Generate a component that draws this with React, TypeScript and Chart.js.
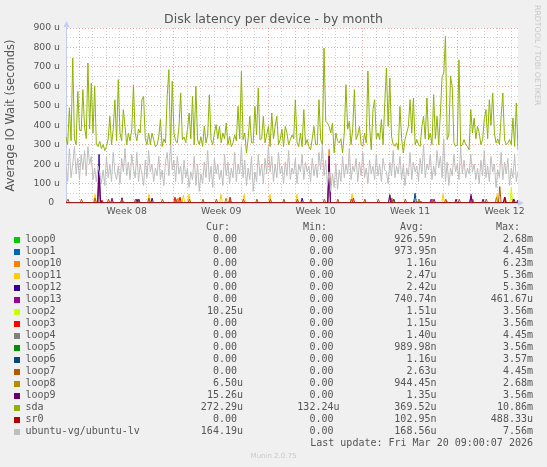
import { useEffect, useRef } from "react";
import { Chart, registerables } from "chart.js";

Chart.register(...registerables);

// time axis in days since the left edge of the graph, one sample every 3 hours
const STEP_DAYS = 0.125;
const SPAN_DAYS = 33.5;
const WEEK_STARTS = [1, 8, 15, 22, 29];
const WEEK_LABELS = ["Week 08", "Week 09", "Week 10", "Week 11", "Week 12"];

// values in microseconds
const sda = [
  340, 300, 490, 320, 746, 330, 300, 574, 380, 370, 583, 390, 330, 720, 380, 617, 360, 603, 300, 290,
  317, 280, 300, 270, 290, 330, 446, 300, 380, 531, 320, 634, 360, 320, 480, 394, 300, 360, 320, 380,
  608, 360, 320, 380, 360, 531, 548, 330, 300, 360, 300, 360, 326, 290, 300, 340, 429, 290, 330, 309,
  548, 686, 274, 626, 360, 320, 309, 394, 566, 326, 340, 310, 377, 463, 330, 548, 300, 600, 326, 300,
  340, 291, 394, 309, 350, 557, 326, 300, 360, 403, 330, 394, 310, 360, 330, 411, 300, 343, 290, 309,
  350, 320, 497, 330, 677, 326, 360, 257, 330, 446, 310, 309, 497, 350, 591, 326, 330, 446, 309, 350,
  394, 290, 463, 330, 394, 446, 300, 326, 380, 290, 394, 360, 300, 326, 350, 330, 531, 310, 290, 360,
  290, 480, 300, 326, 290, 274, 330, 394, 300, 300, 531, 326, 300, 797, 420, 411, 394, 360, 411, 257,
  360, 320, 309, 330, 257, 360, 608, 380, 420, 300, 380, 583, 326, 350, 394, 300, 291, 360, 309, 679,
  394, 274, 480, 531, 330, 360, 326, 429, 300, 514, 694, 394, 643, 343, 300, 291, 309, 274, 497, 330,
  257, 326, 360, 394, 531, 360, 540, 300, 326, 300, 291, 394, 446, 330, 540, 326, 360, 300, 557, 330,
  446, 300, 463, 651, 668, 857, 326, 350, 651, 600, 310, 291, 300, 737, 291, 300, 326, 300, 291, 274,
  480, 360, 437, 330, 394, 360, 300, 326, 429, 480, 330, 531, 400, 566, 360, 309, 330, 300, 446, 566,
  326, 300, 309, 326, 300, 437, 291, 514, 272,
];

const ubuntuLv = [
  190, 110, 280, 130, 200, 290, 150, 230, 120, 250, 170, 270, 140, 290, 200, 240, 120, 180, 110, 190,
  150, 100, 170, 90, 240, 130, 200, 110, 260, 150, 120, 190, 100, 230, 160, 280, 140, 210, 120, 250,
  180, 130, 260, 110, 200, 150, 90, 220, 130, 270, 160, 200, 110, 180, 140, 240, 120, 170, 90, 210,
  260, 140, 300, 170, 220, 110, 240, 150, 190, 100, 220, 130, 180, 80, 160, 120, 240, 90, 200, 60,
  150, 100, 210, 130, 270, 110, 190, 80, 230, 150, 200, 120, 170, 90, 250, 140, 210, 100, 180, 130,
  260, 110, 200, 150, 290, 130, 220, 90, 180, 120, 240, 60, 160, 110, 250, 140, 200, 100, 230, 150,
  290, 160, 240, 110, 200, 130, 260, 150, 190, 100, 210, 140, 270, 120, 180, 150, 230, 100, 200, 160,
  250, 120, 210, 160, 190, 110, 230, 140, 200, 130, 260, 170, 300, 140, 220, 90, 160, 60, 150, 80,
  200, 70, 170, 110, 240, 130, 200, 150, 280, 120, 190, 160, 230, 110, 210, 140, 260, 130, 180, 100,
  220, 150, 190, 120, 250, 140, 200, 110, 230, 170, 160, 100, 210, 140, 270, 130, 190, 150, 240, 120,
  200, 90, 180, 140, 260, 120, 210, 160, 190, 110, 230, 150, 300, 130, 200, 170, 250, 120, 190, 140,
  270, 180, 240, 130, 330, 110, 210, 90, 180, 140, 250, 160, 200, 120, 290, 150, 220, 130, 180, 150,
  250, 160, 200, 120, 180, 100, 220, 140, 270, 130, 190, 110, 240, 160, 200, 80, 170, 130, 260, 120,
  210, 150, 230, 90, 180, 130, 250, 110, 164,
];

// loop devices are idle except short bursts: [day, microseconds]
type Spike = [number, number];
const loop0Spikes: Spike[] = [[28.24, 8]];
const loop1Spikes: Spike[] = [[25.8, 12]];
const loop10Spikes: Spike[] = [[2.45, 170], [8.3, 25], [19.5, 276]];
const loop11Spikes: Spike[] = [
  [2.15, 45], [6.15, 45], [8.7, 40], [9.12, 45], [11.49, 45], [13.2, 45],
  [15.12, 45], [17.12, 45], [21.2, 48], [27.95, 45], [31.95, 45],
];
const loop12Spikes: Spike[] = [[2.45, 250], [4.15, 27], [5.26, 20], [6.38, 25], [17.5, 25], [19.5, 200]];
const loop13Spikes: Spike[] = [[24.1, 15], [27.06, 20], [27.28, 20], [30.02, 45]];
const loop2Spikes: Spike[] = [[33.0, 82]];
const loop3Spikes: Spike[] = [[2.67, 15], [8.08, 30], [8.45, 30], [12.16, 30], [21.3, 25]];
const loop4Spikes: Spike[] = [[24.0, 45]];
const loop5Spikes: Spike[] = [[26.3, 10]];
const loop6Spikes: Spike[] = [[24.3, 20], [25.87, 50]];
const loop7Spikes: Spike[] = [
  [0.15, 20], [1.15, 20], [2.15, 25], [3.15, 20], [4.15, 20], [5.15, 20], [6.15, 25], [7.15, 20],
  [8.15, 20], [9.15, 20], [10.15, 20], [11.15, 20], [12.15, 20], [13.15, 20], [14.15, 20], [15.15, 20],
  [16.15, 20], [17.15, 20], [18.15, 20], [19.15, 20], [20.15, 20], [21.15, 20], [22.15, 20], [23.15, 20],
  [24.15, 25], [25.15, 20], [26.15, 20], [27.15, 20], [28.15, 20], [29.15, 20], [30.15, 20], [31.15, 20],
  [32.15, 84], [33.15, 20],
];
const loop8Spikes: Spike[] = [[11.86, 25], [26.17, 20], [31.9, 30]];
const loop9Spikes: Spike[] = [
  [2.45, 150], [3.41, 24], [5.4, 20], [19.5, 242], [24.0, 40], [28.91, 20],
  [30.02, 35], [30.91, 20], [32.5, 30], [33.2, 20],
];
const sr0Spikes: Spike[] = [[2.6, 10], [32.54, 30]];

// legend table, in munin's order
const seriesNames = [
  "loop0", "loop1", "loop10", "loop11", "loop12", "loop13", "loop2", "loop3", "loop4",
  "loop5", "loop6", "loop7", "loop8", "loop9", "sda", "sr0", "ubuntu-vg/ubuntu-lv",
];
const seriesColors = [
  "#00CC00", "#0066B3", "#FF8000", "#FFCC00", "#330099", "#990099", "#CCFF00", "#FF0000", "#808080",
  "#008F00", "#00487D", "#B35A00", "#B38F00", "#6B006B", "#8FB300", "#B30000", "#BEBEBE",
];
const curValues = [
  "0.00 ", "0.00 ", "0.00 ", "0.00 ", "0.00 ", "0.00 ", "10.25u", "0.00 ", "0.00 ",
  "0.00 ", "0.00 ", "0.00 ", "6.50u", "15.26u", "272.29u", "0.00 ", "164.19u",
];
const minValues = [
  "0.00 ", "0.00 ", "0.00 ", "0.00 ", "0.00 ", "0.00 ", "0.00 ", "0.00 ", "0.00 ",
  "0.00 ", "0.00 ", "0.00 ", "0.00 ", "0.00 ", "132.24u", "0.00 ", "0.00 ",
];
const avgValues = [
  "926.59n", "973.95n", "1.16u", "2.47u", "2.42u", "740.74n", "1.51u", "1.15u", "1.40u",
  "989.98n", "1.16u", "2.63u", "944.45n", "1.35u", "369.52u", "102.95n", "168.56u",
];
const maxValues = [
  "2.68m", "4.45m", "6.23m", "5.36m", "5.36m", "461.67u", "3.56m", "3.56m", "4.45m",
  "3.56m", "3.57m", "4.45m", "2.68m", "3.56m", "10.86m", "488.33u", "7.56m",
];
// last value of the idle devices that were not at zero at the end
const loopLastValues: Record<string, number> = { loop2: 10.25, loop8: 6.5, loop9: 15.26 };

const FONT = "'DejaVu Sans', sans-serif";
const MONO = "'DejaVu Sans Mono', monospace";
const TEXT = "#555555";
const AXIS = "#C4CCF2";
const GRID_MAJOR = "rgba(240, 130, 130, 0.7)";
const GRID_MINOR = "rgba(175, 175, 175, 0.6)";
const SPIKE_HALF = 0.1;

function sampled(values: number[]) {
  return values.map((y, i) => ({ x: i * STEP_DAYS, y }));
}

function spikes(list: Spike[], last: number) {
  const pts = [{ x: 0, y: 0 }];
  [...list].sort((a, b) => a[0] - b[0]).forEach(([d, v]) => {
    pts.push({ x: d - SPIKE_HALF, y: 0 }, { x: d, y: v }, { x: d + SPIKE_HALF, y: 0 });
  });
  if (last) pts.push({ x: SPAN_DAYS - STEP_DAYS, y: 0 });
  pts.push({ x: SPAN_DAYS, y: last });
  return pts;
}

const spikeLists: Record<string, Spike[]> = {
  loop0: loop0Spikes, loop1: loop1Spikes, loop10: loop10Spikes, loop11: loop11Spikes,
  loop12: loop12Spikes, loop13: loop13Spikes, loop2: loop2Spikes, loop3: loop3Spikes,
  loop4: loop4Spikes, loop5: loop5Spikes, loop6: loop6Spikes, loop7: loop7Spikes,
  loop8: loop8Spikes, loop9: loop9Spikes, sr0: sr0Spikes,
};

function seriesData(name: string) {
  if (name === "sda") return sampled(sda);
  if (name === "ubuntu-vg/ubuntu-lv") return sampled(ubuntuLv);
  return spikes(spikeLists[name], loopLastValues[name] || 0);
}

const plotDecor = {
  id: "plotDecor",
  beforeDraw(chart: Chart) {
    const { ctx, chartArea: a } = chart;
    ctx.save();
    ctx.fillStyle = "#ffffff";
    ctx.fillRect(a.left, a.top, a.right - a.left, a.bottom - a.top);
    ctx.restore();
  },
  afterDraw(chart: Chart) {
    const { ctx, chartArea: a } = chart;
    ctx.save();
    ctx.fillStyle = AXIS;
    ctx.strokeStyle = AXIS;
    ctx.lineWidth = 1;
    ctx.beginPath();
    ctx.moveTo(a.left + 0.5, a.top);
    ctx.lineTo(a.left + 0.5, a.top - 2);
    ctx.stroke();
    ctx.beginPath();
    ctx.moveTo(a.left + 0.5, a.top - 7);
    ctx.lineTo(a.left + 3.5, a.top - 1);
    ctx.lineTo(a.left - 2.5, a.top - 1);
    ctx.closePath();
    ctx.fill();
    ctx.beginPath();
    ctx.moveTo(a.right + 6, a.bottom);
    ctx.lineTo(a.right, a.bottom - 3);
    ctx.lineTo(a.right, a.bottom + 3);
    ctx.closePath();
    ctx.fill();
    ctx.restore();
  },
};

function DiskLatencyChart() {
  const canvasRef = useRef<HTMLCanvasElement>(null);
  const chartRef = useRef<Chart | null>(null);

  useEffect(() => {
    if (!canvasRef.current) return;
    if (chartRef.current) chartRef.current.destroy();

    // munin draws in legend order, so the last series ends up on top
    const datasets = seriesNames
      .map((name, i) => ({
        label: name,
        data: seriesData(name),
        borderColor: seriesColors[i],
        backgroundColor: seriesColors[i],
        borderWidth: 1,
        pointRadius: 0,
        tension: 0,
        fill: false,
      }))
      .reverse();

    chartRef.current = new Chart(canvasRef.current, {
      type: "line",
      data: { datasets },
      options: {
        animation: false,
        responsive: false,
        events: [],
        layout: { padding: { left: 0, top: 28, right: 29, bottom: 244 } },
        plugins: {
          legend: { display: false },
          tooltip: { enabled: false },
          title: { display: false },
        },
        scales: {
          x: {
            type: "linear",
            min: 0,
            max: SPAN_DAYS,
            afterFit: (scale: any) => {
              scale.height = 20;
            },
            afterBuildTicks: (axis: any) => {
              const values: number[] = [];
              for (let d = 1; d <= Math.floor(SPAN_DAYS); d++) values.push(d);
              WEEK_STARTS.forEach((s) => values.push(s + 3.5));
              axis.ticks = values.sort((a, b) => a - b).map((value) => ({ value }));
            },
            grid: {
              drawTicks: false,
              lineWidth: 1,
              color: (ctx: any) => {
                const v = ctx.tick ? ctx.tick.value : -1;
                if (WEEK_STARTS.includes(v)) return GRID_MAJOR;
                if (Number.isInteger(v)) return GRID_MINOR;
                return "rgba(0,0,0,0)";
              },
            },
            border: { display: true, color: AXIS, dash: [1, 2] },
            ticks: {
              autoSkip: false,
              maxRotation: 0,
              padding: 3,
              color: TEXT,
              font: { family: FONT, size: 9.3 },
              callback: (value: any) => {
                const i = WEEK_STARTS.findIndex((s) => s + 3.5 === Number(value));
                return i >= 0 ? WEEK_LABELS[i] : "";
              },
            },
          },
          y: {
            min: 0,
            max: 900,
            afterFit: (scale: any) => {
              scale.width = 66;
            },
            title: {
              display: true,
              text: "Average IO Wait (seconds)",
              color: TEXT,
              font: { family: FONT, size: 11.5 },
              padding: { top: 4, bottom: 4 },
            },
            grid: {
              drawTicks: false,
              lineWidth: 1,
              color: (ctx: any) =>
                ctx.tick && ctx.tick.value % 100 === 0 ? GRID_MAJOR : GRID_MINOR,
            },
            border: { display: true, color: AXIS, dash: [1, 2] },
            ticks: {
              stepSize: 50,
              autoSkip: false,
              padding: 6,
              color: TEXT,
              font: { family: FONT, size: 9.3 },
              callback: (value: any) => {
                const n = Number(value);
                if (n % 100 !== 0) return "";
                return n === 0 ? "0  " : `${n} u`;
              },
            },
          },
        },
      },
      plugins: [plotDecor],
    });

    return () => {
      if (chartRef.current) {
        chartRef.current.destroy();
        chartRef.current = null;
      }
    };
  }, []);

  return <canvas ref={canvasRef} width={547} height={467} style={{ position: "absolute", left: 0, top: 0 }} />;
}

const valueColumns = [
  { right: 243, values: curValues },
  { right: 339.5, values: minValues },
  { right: 436.5, values: avgValues },
  { right: 533, values: maxValues },
];
const headers = [
  { left: 206, text: "Cur:" },
  { left: 303, text: "Min:" },
  { left: 400, text: "Avg:" },
  { left: 496, text: "Max:" },
];

export default function App() {
  const row = (top: number): React.CSSProperties => ({
    position: "absolute",
    top,
    left: 0,
    width: 547,
    height: 12,
    lineHeight: "12px",
    fontFamily: MONO,
    fontSize: 10,
    color: TEXT,
    whiteSpace: "pre",
  });

  return (
    <div
      style={{
        position: "absolute",
        left: 0,
        top: 0,
        width: 547,
        height: 467,
        background: "#f0f0f0",
        overflow: "hidden",
      }}
    >
      <DiskLatencyChart />
      <div
        style={{
          position: "absolute",
          top: 10.5,
          left: 0,
          width: 547,
          textAlign: "center",
          fontFamily: FONT,
          fontSize: 12.5,
          lineHeight: "15px",
          color: TEXT,
        }}
      >
        Disk latency per device - by month
      </div>
      <div
        style={{
          position: "absolute",
          top: 5,
          left: 532.5,
          writingMode: "vertical-rl",
          fontFamily: FONT,
          fontSize: 7.8,
          lineHeight: "9px",
          color: "#c8c8c8",
          whiteSpace: "pre",
        }}
      >
        RRDTOOL / TOBI OETIKER
      </div>

      <div style={row(220.5)}>
        {headers.map((h) => (
          <span key={h.text} style={{ position: "absolute", left: h.left }}>
            {h.text}
          </span>
        ))}
      </div>
      {seriesNames.map((name, i) => (
        <div key={name} style={row(232.5 + 12 * i)}>
          <span
            style={{
              position: "absolute",
              left: 14,
              top: 4.5,
              width: 6,
              height: 6,
              background: seriesColors[i],
            }}
          />
          <span style={{ position: "absolute", left: 25.5 }}>{name}</span>
          {valueColumns.map((c, j) => (
            <span key={j} style={{ position: "absolute", right: 547 - c.right, textAlign: "right" }}>
              {c.values[i]}
            </span>
          ))}
        </div>
      ))}
      <div style={row(232.5 + 12 * seriesNames.length)}>
        <span style={{ position: "absolute", right: 547 - 533 }}>
          Last update: Fri Mar 20 09:00:07 2026
        </span>
      </div>
      <div
        style={{
          position: "absolute",
          top: 451.5,
          left: 0,
          width: 547,
          textAlign: "center",
          fontFamily: FONT,
          fontSize: 7,
          lineHeight: "9px",
          color: "#c8c8c8",
        }}
      >
        Munin 2.0.75
      </div>
    </div>
  );
}
